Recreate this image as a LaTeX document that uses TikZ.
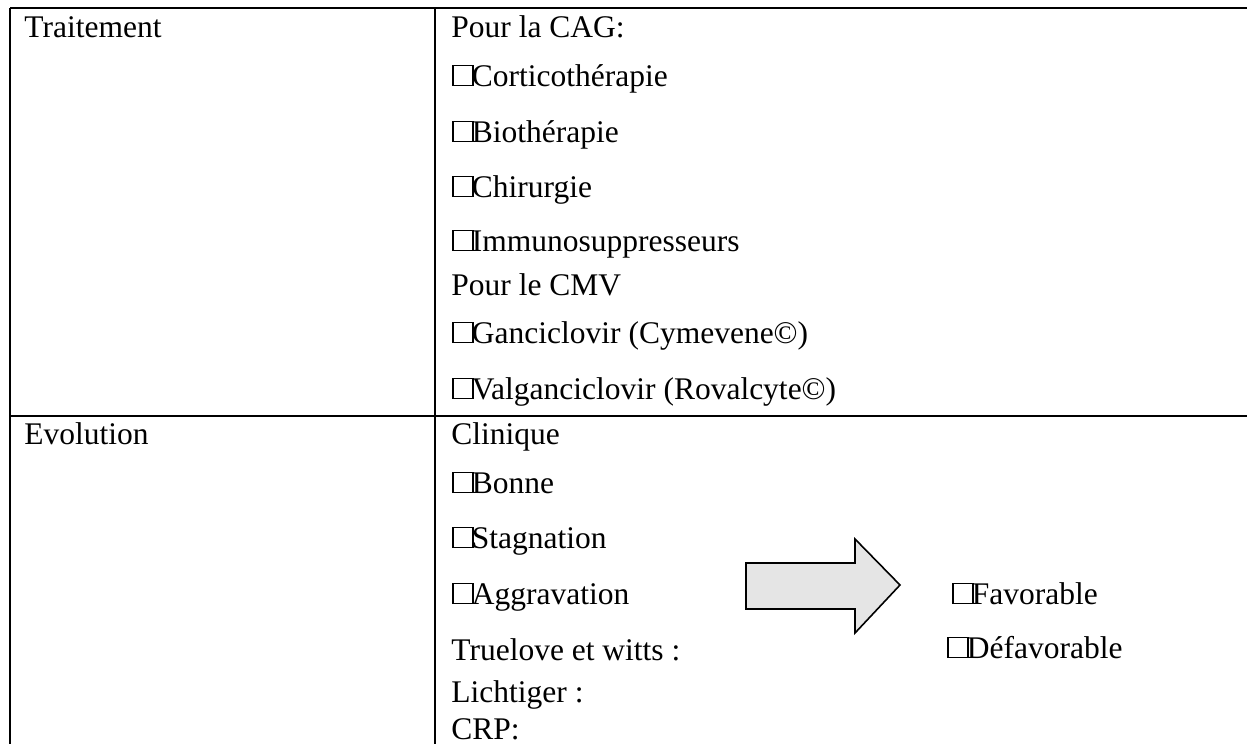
\documentclass[tikz,border=0pt]{standalone}
\usepackage{fontspec}
\setmainfont{Liberation Serif}
\newcommand\cbx{\leavevmode\vbox{\hrule height 0.045em\hbox{\vrule width 0.045em height 0.58em\kern0.58em\vrule width 0.045em}\hrule height 0.045em}\kern-0.05em}
\begin{document}
\begin{tikzpicture}[x=0.5pt,y=-0.5pt,
  txt/.style={anchor=base west, inner sep=0pt, font=\fontsize{15.75}{18}\selectfont},
  tabline/.style={line width=1pt},
  bigarrow/.style={line width=0.8pt, fill=black!10, line join=miter}]
\useasboundingbox (0,0) rectangle (1247,744);
% table grid
\coordinate (tl) at (10,8);
\coordinate (tr) at (1247,8);
\coordinate (bl) at (10,744);
\coordinate (mt) at (435,8);
\coordinate (mb) at (435,744);
\coordinate (sl) at (10,416);
\coordinate (sr) at (1247,416);
\draw[tabline] (tl) -- (tr);
\draw[tabline] (tl) -- (bl);
\draw[tabline] (mt) -- (mb);
\draw[tabline] (sl) -- (sr);
% left column
\node[txt] (trait) at (24,37) {Traitement};
\node[txt] (evol) at (24,444) {Evolution};
% right column, treatment
\node[txt] (cag) at (451,37) {Pour la CAG:};
\node[txt] (cort) at (452,86) {\cbx Corticothérapie};
\node[txt] (bio) at (452,142) {\cbx Biothérapie};
\node[txt] (chir) at (452,197) {\cbx Chirurgie};
\node[txt] (immu) at (452,251) {\cbx Immunosuppresseurs};
\node[txt] (cmv) at (451,295) {Pour le CMV};
\node[txt] (ganc) at (452,343) {\cbx Ganciclovir (Cymevene©)};
\node[txt] (valg) at (452,399) {\cbx Valganciclovir (Rovalcyte©)};
% right column, evolution
\node[txt] (clin) at (451,444) {Clinique};
\node[txt] (bonne) at (452,493) {\cbx Bonne};
\node[txt] (stag) at (452,548) {\cbx Stagnation};
\node[txt] (aggr) at (452,604) {\cbx Aggravation};
\node[txt] (true) at (451,660) {Truelove et witts :};
\node[txt] (licht) at (451,702) {Lichtiger :};
\node[txt] (crp) at (451,739) {CRP:};
\node[txt] (fav) at (952,604) {\cbx Favorable};
\node[txt] (defav) at (947,658) {\cbx Défavorable};
% block arrow
\draw[bigarrow] (746,563) -- (855,563) -- (855,539) -- (900,585) -- (855,633) -- (855,609) -- (746,609) -- cycle;
\end{tikzpicture}
\end{document}
